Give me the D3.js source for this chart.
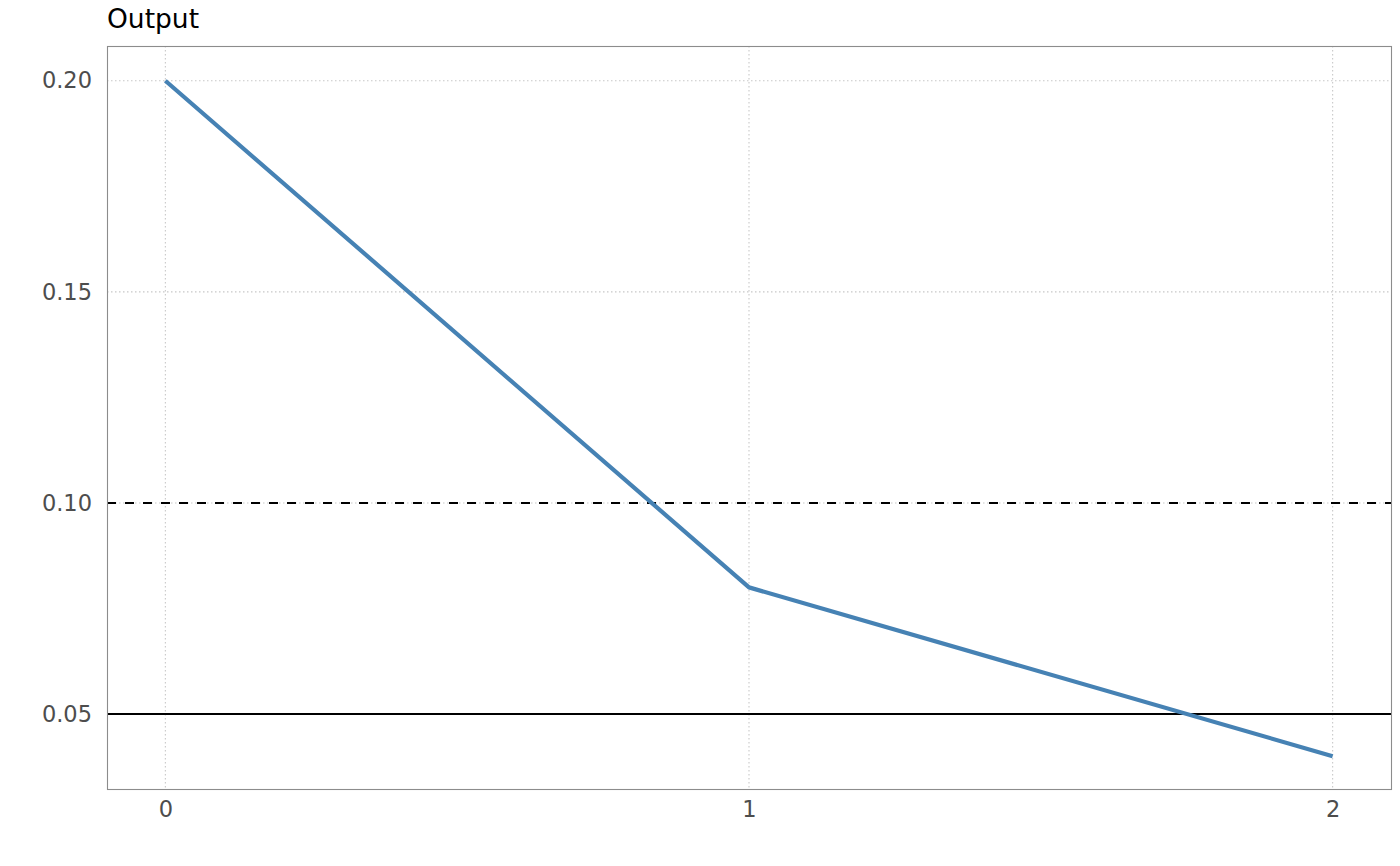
<!DOCTYPE html>
<html><head><meta charset="utf-8">
<script src="https://cdn.jsdelivr.net/npm/d3@7"></script>
<style>body{margin:0;background:#fff}svg{display:block;font-family:"DejaVu Sans",sans-serif}</style>
</head><body><svg id="c" width="1400" height="866"></svg>
<script>
const xValues = [0, 1, 2];
const yValues = [0.20, 0.08, 0.04];
const xTicks = [0, 1, 2];
const yTicks = [0.05, 0.10, 0.15, 0.20];
const dashedRef = 0.10;
const solidRef = 0.05;
const title = "Output";

const svg = d3.select("#c");
const L = 107, R = 1391, T = 46, B = 789;
const x = d3.scaleLinear().domain([-0.1, 2.1]).range([L, R]);
const y = d3.scaleLinear().domain([0.032, 0.208]).range([B + 1, T + 1]);

const grid = svg.append("g");
grid.selectAll("line.gx").data(xTicks).join("line")
  .attr("x1", d => x(d)).attr("x2", d => x(d)).attr("y1", T).attr("y2", B)
  .attr("stroke", "#c8c8c8").attr("stroke-width", 1.1).attr("stroke-dasharray", "1.5,2.5");
grid.selectAll("line.gy").data(yTicks).join("line")
  .attr("y1", d => y(d)).attr("y2", d => y(d)).attr("x1", L).attr("x2", R)
  .attr("stroke", "#c8c8c8").attr("stroke-width", 1.1).attr("stroke-dasharray", "1.5,2.5");

svg.append("line").attr("x1", L).attr("x2", R).attr("y1", y(dashedRef)).attr("y2", y(dashedRef))
  .attr("stroke", "#000").attr("stroke-width", 2).attr("stroke-dasharray", "9,9");
svg.append("line").attr("x1", L).attr("x2", R).attr("y1", y(solidRef)).attr("y2", y(solidRef))
  .attr("stroke", "#000").attr("stroke-width", 2);

const data = xValues.map((v, i) => [v, yValues[i]]);
svg.append("path").datum(data)
  .attr("d", d3.line().x(d => x(d[0])).y(d => y(d[1])))
  .attr("fill", "none").attr("stroke", "#4682B4").attr("stroke-width", 4.2).attr("stroke-linejoin", "round");

svg.append("rect").attr("x", L + 0.5).attr("y", T + 0.5).attr("width", R - L).attr("height", B - T)
  .attr("fill", "none").attr("stroke", "#8c8c8c").attr("stroke-width", 1.1);

const yAxis = d3.axisLeft(y).tickValues(yTicks).tickFormat(d3.format(".2f")).tickSize(0).tickPadding(15);
const gy = svg.append("g").attr("transform", `translate(${L},0)`).call(yAxis);
gy.select(".domain").remove();
gy.attr("font-size", null).attr("font-family", null);
gy.selectAll("text").attr("font-size", 22.5).attr("fill", "#4d4d4d").attr("font-family", "DejaVu Sans");

const xAxis = d3.axisBottom(x).tickValues(xTicks).tickFormat(d3.format("d")).tickSize(0).tickPadding(12);
const gx = svg.append("g").attr("transform", `translate(0,${B})`).call(xAxis);
gx.select(".domain").remove();
gx.attr("font-size", null).attr("font-family", null);
gx.selectAll("text").attr("font-size", 22.5).attr("fill", "#4d4d4d").attr("font-family", "DejaVu Sans");

svg.append("text").attr("x", L).attr("y", 28).text(title)
  .attr("font-size", 26.5).attr("fill", "#000").attr("font-family", "DejaVu Sans");
</script></body></html>
